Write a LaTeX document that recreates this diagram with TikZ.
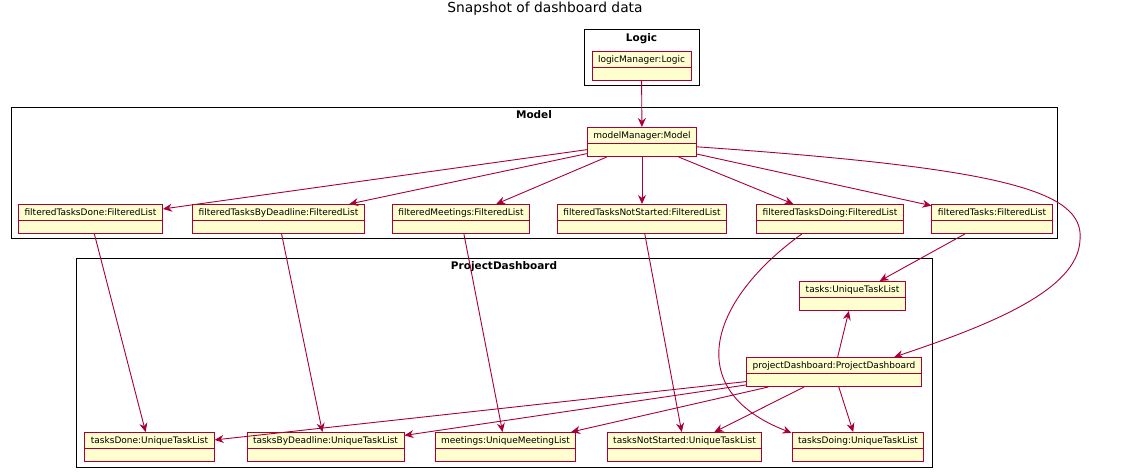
\documentclass[tikz,border=0pt]{standalone}
\usepackage{fontspec}
\setmainfont{DejaVu Sans}
\usepackage{tikz}
\usetikzlibrary{arrows.meta}
\usetikzlibrary{shapes.multipart}
\definecolor{objline}{HTML}{A80036}
\definecolor{objfill}{HTML}{FEFECE}
\def\FilteredTop{204}
\def\UniqueTop{432}

\tikzset{
	obj/.style={rectangle split, rectangle split parts=2, draw=objline, fill=objfill,
		line width=1pt, anchor=north, inner xsep=6pt, inner ysep=3pt,
		text height=7pt, text depth=2pt,
		rectangle split empty part height=6pt, rectangle split empty part depth=0pt,
		font=\fontsize{9}{10}\selectfont},
	pkg/.style={draw=black, line width=1.3pt, anchor=north west, inner sep=0pt},
	pkgname/.style={font=\fontsize{10.5}{12}\selectfont\bfseries},
	link/.style={draw=objline, line width=0.9pt, -{Stealth[length=9pt,width=8pt,inset=3pt]}},
}

\begin{document}
\begin{tikzpicture}[x=1pt,y=-1pt]
			\useasboundingbox (0,0) rectangle (1134,474);
			\node[font=\fontsize{13.8}{16}\selectfont] (title) at (545,9) {Snapshot of dashboard data};
			% packages
			\node[pkg, minimum width=115pt, minimum height=56pt] (logicPkg) at (584,29) {};
			\node[pkgname] (logicName) at (641.5,38.5) {Logic};
			\node[pkg, minimum width=1046pt, minimum height=131pt] (modelPkg) at (11,107) {};
			\node[pkgname] (modelName) at (534,114.5) {Model};
			\node[pkg, minimum width=856pt, minimum height=209pt] (dashboardPkg) at (76,258) {};
			\node[pkgname] (dashboardName) at (504,267) {ProjectDashboard};
			% objects
			\node[obj] (logicManager) at (641.5,51) {logicManager:Logic};
			\node[obj] (modelManager) at (642,127) {modelManager:Model};
			% 
			\node[obj] (filteredTasksDone) at (90.5,\FilteredTop) {filteredTasksDone:FilteredList};
			\node[obj] (filteredTasksByDeadline) at (278.5,\FilteredTop) {filteredTasksByDeadline:FilteredList};
			\node[obj] (filteredMeetings) at (461,\FilteredTop) {filteredMeetings:FilteredList};
			\node[obj] (filteredTasksNotStarted) at (642,\FilteredTop) {filteredTasksNotStarted:FilteredList};
			\node[obj] (filteredTasksDoing) at (830,\FilteredTop) {filteredTasksDoing:FilteredList};
			\node[obj] (filteredTasks) at (992,\FilteredTop) {filteredTasks:FilteredList};
			% 
			\node[obj] (tasks) at (852.5,281) {tasks:UniqueTaskList};
			\node[obj] (projectDashboard) at (834,357) {projectDashboard:ProjectDashboard};
			% 
			\node[obj] (tasksDone) at (149.5,\UniqueTop) {tasksDone:UniqueTaskList};
			\node[obj] (tasksByDeadline) at (325.5,\UniqueTop) {tasksByDeadline:UniqueTaskList};
			\node[obj] (meetings) at (505.5,\UniqueTop) {meetings:UniqueMeetingList};
			\node[obj] (tasksNotStarted) at (684.5,\UniqueTop) {tasksNotStarted:UniqueTaskList};
			\node[obj] (tasksDoing) at (858,\UniqueTop) {tasksDoing:UniqueTaskList};
			% links
			\draw[link] (logicManager) -- (modelManager);
			\foreach \f in {filteredTasksDone,filteredTasksByDeadline,filteredMeetings,filteredTasksNotStarted,filteredTasksDoing,filteredTasks}
				\draw[link] (modelManager) -- (\f);
			\foreach \f/\u in {filteredTasksDone/tasksDone,filteredTasksByDeadline/tasksByDeadline,filteredMeetings/meetings,filteredTasksNotStarted/tasksNotStarted,filteredTasks/tasks}
				\draw[link] (\f) -- (\u);
			\foreach \u in {tasks,tasksDone,tasksByDeadline,meetings,tasksNotStarted,tasksDoing}
				\draw[link] (projectDashboard) -- (\u);
			% the two long bends
			\coordinate (bend) at (1080,240);
			\draw[link] (modelManager.-5) .. controls (1000,168) and (1085,190) .. (bend)
				.. controls (1078,290) and (990,325) .. (projectDashboard.14);
			\draw[link] (filteredTasksDoing.208) .. controls (710,300) and (680,390) .. (tasksDoing.168);
		\end{tikzpicture}
\end{document}
